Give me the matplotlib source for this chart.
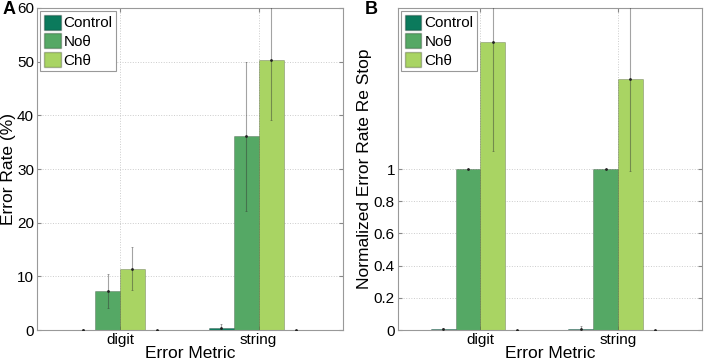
import numpy as np
import matplotlib
matplotlib.use("Agg")
import matplotlib.pyplot as plt
from matplotlib.patches import Patch

plt.rcParams['font.family'] = ['Liberation Sans', 'DejaVu Sans']

metrics = ['digit', 'string']
series = ['Control', 'No\u03b8', 'Ch\u03b8', '']
colors = ['#0b7a5c', '#55a865', '#a9d463', '#ffffff']

# panel A: error rate (%)
rate_mean = [[0.1, 0.4], [7.3, 36.1], [11.4, 50.4], [0.0, 0.0]]
rate_err = [[0.1, 0.8], [3.2, 13.9], [4.0, 11.3], [0.0, 0.0]]

# panel B: normalized to stop
norm_mean = [[0.005, 0.008], [1.0, 1.0], [1.79, 1.56], [0.0, 0.0]]
norm_err = [[0.01, 0.02], [0.0, 0.0], [0.68, 0.57], [0.0, 0.0]]

fig = plt.figure(figsize=(7.09, 3.62), dpi=100)
axA = fig.add_axes([0.052, 0.088, 0.432, 0.89])
axB = fig.add_axes([0.561, 0.088, 0.429, 0.89])

x = np.arange(1, len(metrics) + 1)
w = 0.18
offsets = (np.arange(len(series)) - 1.5) * w


def draw(ax, means, errs):
    for i, (m, e) in enumerate(zip(means, errs)):
        ax.bar(x + offsets[i], m, width=w, color=colors[i], edgecolor=(0, 0, 0, 0.25),
               linewidth=0.6, zorder=2)
        ax.errorbar(x + offsets[i], m, yerr=e, fmt='.', color='#222222', markersize=2,
                    ecolor=(0.2, 0.2, 0.2, 0.45), elinewidth=0.8, capsize=1, capthick=0.6,
                    zorder=3, clip_on=True)
    ax.set_xticks(x)
    ax.set_xticklabels(metrics, fontsize=11)
    ax.set_xlim(0.40, 2.61)
    ax.grid(True, color='#cccccc', linestyle=':', linewidth=0.7, zorder=0)
    ax.tick_params(direction='in', length=3, top=True, right=True, labelsize=11,
                   color='#888888', pad=2)
    for s in ax.spines.values():
        s.set_color('#999999')
        s.set_linewidth(0.8)
    ax.set_xlabel('Error Metric', fontsize=12.5, labelpad=-1)
    handles = [Patch(facecolor=colors[i], edgecolor=(0, 0, 0, 0.25), label=series[i]) for i in range(3)]
    leg = ax.legend(handles=handles, loc='upper left', fontsize=11, handlelength=1.1,
                    handleheight=1.1, handletextpad=0.2, borderpad=0.25, labelspacing=0.2,
                    borderaxespad=0.2, fancybox=False, framealpha=1)
    leg.get_frame().set_edgecolor('#999999')
    leg.get_frame().set_linewidth(0.8)


draw(axA, rate_mean, rate_err)
axA.set_ylim(0, 60)
axA.set_yticks([0, 10, 20, 30, 40, 50, 60])
axA.set_ylabel('Error Rate (%)', fontsize=12.5, labelpad=1)

draw(axB, norm_mean, norm_err)
axB.set_ylim(0, 2.0)
axB.set_yticks([0, 0.2, 0.4, 0.6, 0.8, 1])
axB.set_yticklabels(['0', '0.2', '0.4', '0.6', '0.8', '1'])
axB.set_ylabel('Normalized Error Rate Re Stop', fontsize=12.5, labelpad=1)

fig.text(0.004, 0.975, 'A', fontsize=13, fontweight='bold', va='center')
fig.text(0.515, 0.975, 'B', fontsize=13, fontweight='bold', va='center')

fig.savefig('out.png', dpi=100)
